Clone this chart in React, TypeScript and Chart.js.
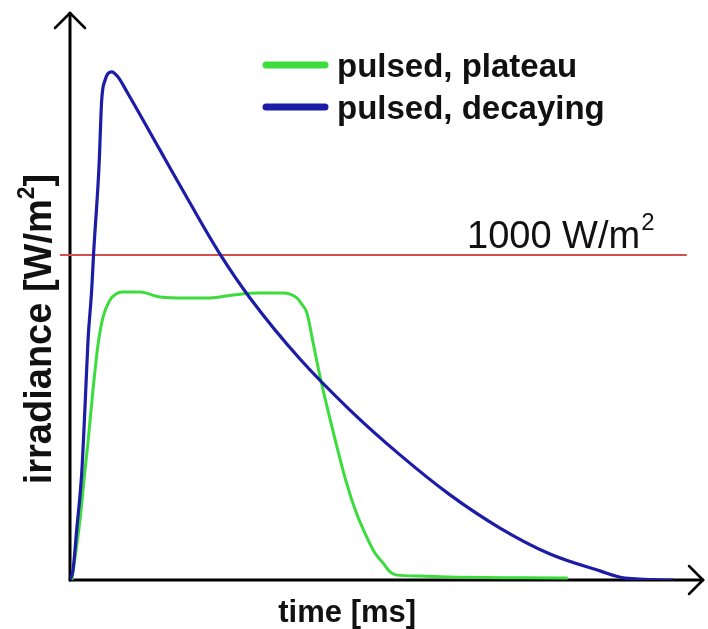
import React, { useEffect, useRef } from "react";
import { Chart, registerables } from "chart.js";

Chart.register(...registerables);

// ---- data ----
const seriesLabels = ["pulsed, plateau", "pulsed, decaying"];
const seriesColors = ["#3ddc3d", "#1c1ca6"];

const plateauTime = [0.3, 1.59, 2.38, 2.86, 3.65, 4.44, 5.24, 6.35, 7.3, 8.25, 11.1, 14.3, 18.3, 22.2, 25.9, 29.7, 33.8, 34.9, 36.0, 36.8, 37.6, 38.6, 39.7, 41.7, 43.9, 45.4, 47.1, 48.4, 49.7, 50.8, 51.9, 55.6, 60.3, 79.0];
const plateauIrradiance = [0, 185, 338, 425, 585, 723, 809, 862, 880, 886, 886, 871, 868, 868, 877, 883, 883, 880, 868, 849, 822, 729, 625, 462, 298, 209, 132, 83, 52, 25, 15, 12, 9, 6];

const decayTime = [0, 0.48, 1.06, 1.86, 2.38, 2.86, 3.44, 3.75, 4.6, 5.03, 5.56, 6.62, 7.62, 9.05, 14.29, 19.05, 23.81, 28.57, 36.51, 44.44, 52.38, 60.32, 68.25, 76.19, 84.13, 88.1, 95.7];
const decayIrradiance = [0, 31, 154, 329, 532, 738, 892, 1006, 1271, 1477, 1538, 1564, 1548, 1502, 1323, 1160, 1003, 868, 680, 523, 385, 262, 160, 80, 28, 6, 0];

const thresholdLevel = 1000;
const thresholdSpan = [-1.6, 97.9];
const thresholdText = "1000 W/m";
const unitSup = "2";

const xTitle = "time [ms]";
const yTitleMain = "irradiance [W/m";
const yTitleEnd = "]";

const xRange = [0, 100];
const yRange = [0, 1745];

const FONT = "'Liberation Sans', Arial, sans-serif";

function toPoints(xs: number[], ys: number[]) {
  return xs.map((x, i) => ({ x, y: ys[i] }));
}

const decorPlugin = {
  id: "decor",
  beforeDatasetsDraw(chart: any) {
    const ctx = chart.ctx as CanvasRenderingContext2D;
    const { left, right, top, bottom } = chart.chartArea;
    ctx.save();
    ctx.strokeStyle = "#000";
    ctx.lineWidth = 3;
    ctx.lineCap = "round";
    ctx.lineJoin = "round";
    // y axis
    ctx.beginPath();
    ctx.moveTo(left, bottom);
    ctx.lineTo(left, top);
    ctx.stroke();
    ctx.lineWidth = 2.5;
    ctx.beginPath();
    ctx.moveTo(left - 15, top + 15);
    ctx.lineTo(left, top);
    ctx.lineTo(left + 15, top + 15);
    ctx.stroke();
    // x axis
    ctx.lineWidth = 3;
    ctx.beginPath();
    ctx.moveTo(left, bottom);
    ctx.lineTo(right + 3, bottom);
    ctx.stroke();
    ctx.lineWidth = 2.5;
    ctx.beginPath();
    ctx.moveTo(right - 11, bottom - 14);
    ctx.lineTo(right + 3, bottom);
    ctx.lineTo(right - 11, bottom + 14);
    ctx.stroke();
    ctx.restore();
  },
  afterDraw(chart: any) {
    const ctx = chart.ctx as CanvasRenderingContext2D;
    const xs = chart.scales.x;
    const ys = chart.scales.y;
    ctx.save();
    ctx.fillStyle = "#111";
    ctx.textBaseline = "alphabetic";

    // legend
    const legendRows = [
      { label: seriesLabels[0], color: seriesColors[0], y: 65 },
      { label: seriesLabels[1], color: seriesColors[1], y: 107 },
    ];
    legendRows.forEach((r) => {
      ctx.strokeStyle = r.color;
      ctx.lineWidth = 7;
      ctx.lineCap = "round";
      ctx.beginPath();
      ctx.moveTo(266, r.y);
      ctx.lineTo(325, r.y);
      ctx.stroke();
      ctx.font = `bold 33px ${FONT}`;
      ctx.textAlign = "left";
      ctx.fillText(r.label, 337, r.y + 12);
    });

    // threshold label
    const ty = ys.getPixelForValue(thresholdLevel);
    ctx.font = `38px ${FONT}`;
    ctx.textAlign = "left";
    const tx = 467;
    ctx.fillText(thresholdText, tx, ty - 7);
    const tw = ctx.measureText(thresholdText).width;
    ctx.font = `24px ${FONT}`;
    ctx.fillText(unitSup, tx + tw + 1, ty - 25);

    // x title
    ctx.font = `bold 31px ${FONT}`;
    ctx.textAlign = "center";
    ctx.fillText(xTitle, xs.getPixelForValue(44), 622);

    // y title (rotated)
    ctx.save();
    ctx.translate(51, 329);
    ctx.rotate(-Math.PI / 2);
    ctx.textAlign = "left";
    ctx.font = `bold 38px ${FONT}`;
    const w1 = ctx.measureText(yTitleMain).width;
    const w3 = ctx.measureText(yTitleEnd).width;
    ctx.font = `bold 23px ${FONT}`;
    const w2 = ctx.measureText(unitSup).width;
    const total = w1 + w2 + w3;
    const x0 = -total / 2;
    ctx.font = `bold 38px ${FONT}`;
    ctx.fillText(yTitleMain, x0, 0);
    ctx.font = `bold 23px ${FONT}`;
    ctx.fillText(unitSup, x0 + w1, -17);
    ctx.font = `bold 38px ${FONT}`;
    ctx.fillText(yTitleEnd, x0 + w1 + w2, 0);
    ctx.restore();

    ctx.restore();
  },
};

export default function App() {
  const canvasRef = useRef<HTMLCanvasElement | null>(null);

  useEffect(() => {
    const canvas = canvasRef.current;
    if (!canvas) return;
    const chart = new Chart(canvas, {
      type: "line",
      data: {
        datasets: [
          {
            label: seriesLabels[0],
            data: toPoints(plateauTime, plateauIrradiance),
            borderColor: seriesColors[0],
            borderWidth: 3,
            pointRadius: 0,
            cubicInterpolationMode: "monotone",
            fill: false,
            order: 1,
          },
          {
            label: seriesLabels[1],
            data: toPoints(decayTime, decayIrradiance),
            borderColor: seriesColors[1],
            borderWidth: 3.2,
            pointRadius: 0,
            cubicInterpolationMode: "monotone",
            fill: false,
            order: 0,
          },
          {
            label: "threshold",
            data: toPoints(thresholdSpan, [thresholdLevel, thresholdLevel]),
            borderColor: "rgb(210,80,80)",
            borderWidth: 2,
            pointRadius: 0,
            fill: false,
            clip: false,
            order: 2,
          },
        ],
      },
      options: {
        responsive: false,
        animation: false,
        events: [],
        layout: { padding: { left: 70, right: 8, top: 13, bottom: 49 } },
        plugins: {
          legend: { display: false },
          tooltip: { enabled: false },
          title: { display: false },
        },
        scales: {
          x: { type: "linear", min: xRange[0], max: xRange[1], display: false },
          y: { type: "linear", min: yRange[0], max: yRange[1], display: false },
        },
      },
      plugins: [decorPlugin],
    } as any);
    return () => chart.destroy();
  }, []);

  return (
    <div style={{ position: "absolute", left: 0, top: 0, width: 708, height: 629, background: "#fff" }}>
      <canvas ref={canvasRef} width={708} height={629} style={{ display: "block" }} />
    </div>
  );
}
